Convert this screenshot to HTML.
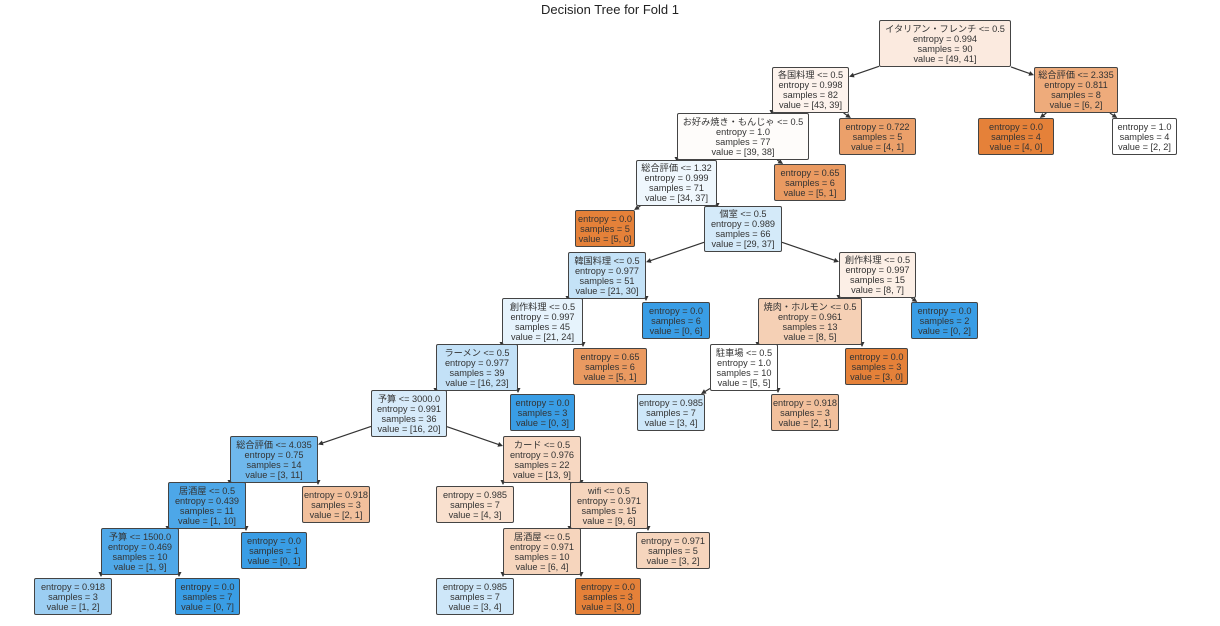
<!DOCTYPE html>
<html><head><meta charset="utf-8"><style>
body{margin:0;background:#fff;width:1220px;height:626px;overflow:hidden;position:relative;font-family:"Liberation Sans","Noto Sans CJK JP",sans-serif;}
.t{position:absolute;left:0;width:1220px;top:2px;text-align:center;font-size:13px;color:#222;}
.n{position:absolute;box-sizing:border-box;border:1.3px solid #444;border-radius:2px;font-size:9.2px;line-height:10px;color:#333;text-align:center;white-space:nowrap;display:flex;flex-direction:column;justify-content:center;}
svg{position:absolute;left:0;top:0;}
</style></head><body>
<div class="t">Decision Tree for Fold 1</div>
<svg id="s" width="1220" height="626"></svg>
<div id="c"></div>
<script>
var N=[
[879,20,1011,67,'#fbeadf',['イタリアン・フレンチ <= 0.5','entropy = 0.994','samples = 90','value = [49, 41]'],-1],
[772,67,849,113,'#fdf3ed',['各国料理 <= 0.5','entropy = 0.998','samples = 82','value = [43, 39]'],0],
[1034,67,1118,113,'#eeab7b',['総合評価 <= 2.335','entropy = 0.811','samples = 8','value = [6, 2]'],0],
[677,113,809,160,'#fefcfa',['お好み焼き・もんじゃ <= 0.5','entropy = 1.0','samples = 77','value = [39, 38]'],1],
[839,118,916,155,'#eba06a',['entropy = 0.722','samples = 5','value = [4, 1]'],1],
[978,118,1054,155,'#e58139',['entropy = 0.0','samples = 4','value = [4, 0]'],2],
[1112,118,1177,155,'#ffffff',['entropy = 1.0','samples = 4','value = [2, 2]'],2],
[636,160,717,206,'#eff7fd',['総合評価 <= 1.32','entropy = 0.999','samples = 71','value = [34, 37]'],3],
[774,164,846,201,'#ea9a61',['entropy = 0.65','samples = 6','value = [5, 1]'],3],
[575,210,635,247,'#e58139',['entropy = 0.0','samples = 5','value = [5, 0]'],7],
[704,206,782,252,'#d4eaf9',['個室 <= 0.5','entropy = 0.989','samples = 66','value = [29, 37]'],7],
[568,252,646,299,'#c4e2f7',['韓国料理 <= 0.5','entropy = 0.977','samples = 51','value = [21, 30]'],10],
[839,252,916,298,'#fcefe6',['創作料理 <= 0.5','entropy = 0.997','samples = 15','value = [8, 7]'],10],
[502,298,583,345,'#e6f3fc',['創作料理 <= 0.5','entropy = 0.997','samples = 45','value = [21, 24]'],11],
[642,302,710,339,'#399de5',['entropy = 0.0','samples = 6','value = [0, 6]'],11],
[758,298,862,345,'#f5d0b5',['焼肉・ホルモン <= 0.5','entropy = 0.961','samples = 13','value = [8, 5]'],12],
[911,302,978,339,'#399de5',['entropy = 0.0','samples = 2','value = [0, 2]'],12],
[436,344,518,391,'#c3e1f7',['ラーメン <= 0.5','entropy = 0.977','samples = 39','value = [16, 23]'],13],
[573,348,647,385,'#ea9a61',['entropy = 0.65','samples = 6','value = [5, 1]'],13],
[710,344,778,391,'#ffffff',['駐車場 <= 0.5','entropy = 1.0','samples = 10','value = [5, 5]'],15],
[845,348,908,385,'#e58139',['entropy = 0.0','samples = 3','value = [3, 0]'],15],
[371,390,447,437,'#d7ebfa',['予算 <= 3000.0','entropy = 0.991','samples = 36','value = [16, 20]'],17],
[510,394,575,431,'#399de5',['entropy = 0.0','samples = 3','value = [0, 3]'],17],
[637,394,705,431,'#cee7f9',['entropy = 0.985','samples = 7','value = [3, 4]'],19],
[771,394,839,431,'#f2c09c',['entropy = 0.918','samples = 3','value = [2, 1]'],19],
[230,436,318,483,'#6fb8ec',['総合評価 <= 4.035','entropy = 0.75','samples = 14','value = [3, 11]'],21],
[503,436,581,483,'#f7d8c2',['カード <= 0.5','entropy = 0.976','samples = 22','value = [13, 9]'],21],
[168,482,246,529,'#4da7e8',['居酒屋 <= 0.5','entropy = 0.439','samples = 11','value = [1, 10]'],25],
[302,486,370,523,'#f2c09c',['entropy = 0.918','samples = 3','value = [2, 1]'],25],
[436,486,514,523,'#f9e0ce',['entropy = 0.985','samples = 7','value = [4, 3]'],26],
[570,482,648,529,'#f6d5bd',['wifi <= 0.5','entropy = 0.971','samples = 15','value = [9, 6]'],26],
[101,528,179,575,'#4fa8e8',['予算 <= 1500.0','entropy = 0.469','samples = 10','value = [1, 9]'],27],
[241,532,307,569,'#399de5',['entropy = 0.0','samples = 1','value = [0, 1]'],27],
[503,528,581,575,'#f6d5bd',['居酒屋 <= 0.5','entropy = 0.971','samples = 10','value = [6, 4]'],30],
[636,532,710,569,'#f6d5bd',['entropy = 0.971','samples = 5','value = [3, 2]'],30],
[34,578,112,615,'#9ccef2',['entropy = 0.918','samples = 3','value = [1, 2]'],31],
[175,578,240,615,'#399de5',['entropy = 0.0','samples = 7','value = [0, 7]'],31],
[436,578,514,615,'#cee7f9',['entropy = 0.985','samples = 7','value = [3, 4]'],33],
[575,578,641,615,'#e58139',['entropy = 0.0','samples = 3','value = [3, 0]'],33]
];
var c=document.getElementById('c'),h='';
N.forEach(function(n){h+='<div class="n" style="left:'+n[0]+'px;top:'+n[1]+'px;width:'+(n[2]-n[0])+'px;height:'+(n[3]-n[1])+'px;background:'+n[4]+'">'+n[5].map(function(l){return '<div>'+l.replace(/</g,'&lt;')+'</div>'}).join('')+'</div>';});
c.innerHTML=h;
function clip(b,cx,cy,dx,dy){var hw=(b[2]-b[0])/2,hh=(b[3]-b[1])/2;var t=Math.min(dx?hw/Math.abs(dx):1e9,dy?hh/Math.abs(dy):1e9);return [cx+dx*t,cy+dy*t];}
var s='';
N.forEach(function(n){if(n[6]<0)return;var p=N[n[6]];
var px=(p[0]+p[2])/2,py=(p[1]+p[3])/2,cx=(n[0]+n[2])/2,cy=(n[1]+n[3])/2;
var dx=cx-px,dy=cy-py;var a=clip(p,px,py,dx,dy),b=clip(n,cx,cy,-dx,-dy);
var D=Math.hypot(dx,dy),ux=dx/D,uy=dy/D;
var L=(b[0]-a[0])*ux+(b[1]-a[1])*uy;
var tip;
if(L>6){s+='<line x1="'+a[0]+'" y1="'+a[1]+'" x2="'+(b[0]-ux*3)+'" y2="'+(b[1]-uy*3)+'" stroke="#333" stroke-width="1.2"/>';tip=b;}
else{
// short stub: corner of parent nearest child, pointing down
var sx=dx<0?p[0]:p[2];tip=[sx,p[3]+2];ux=0;uy=1;
s+='<line x1="'+sx+'" y1="'+(p[3]-1)+'" x2="'+sx+'" y2="'+(p[3]+1)+'" stroke="#333" stroke-width="1.2"/>';
}
var bx=tip[0]-ux*5,by=tip[1]-uy*5;
s+='<polygon points="'+tip[0]+','+tip[1]+' '+(bx-uy*2.5)+','+(by+ux*2.5)+' '+(bx+uy*2.5)+','+(by-ux*2.5)+'" fill="#333"/>';});
document.getElementById('s').innerHTML=s;
</script>
</body></html>
